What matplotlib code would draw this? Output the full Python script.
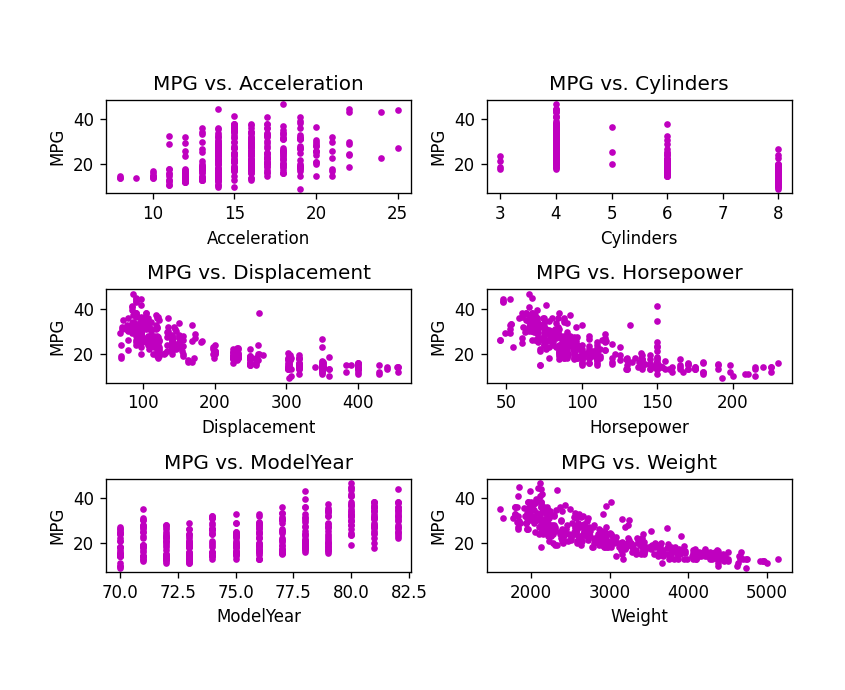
import numpy as np
import matplotlib
matplotlib.use('Agg')
import matplotlib.pyplot as plt

# auto mpg data, one line per model year (70 .. 82)
mpg = [18,15,18,16,17,15,14,14,14,15,15,14,15,14,24,22,18,21,27,26,25,24,25,26,21,10,10,11,9,
       27,28,25,25,19,16,17,19,18,14,14,14,14,12,13,13,18,22,19,18,23,28,30,30,31,35,27,26,
       24,25,23,20,21,13,14,15,14,17,11,13,12,13,19,15,13,13,14,18,22,21,26,22,28,23,28,27,
       13,14,13,14,15,12,13,13,14,13,12,13,18,16,18,18,23,26,11,12,13,12,18,20,21,22,18,19,21,26,15,16,29,24,20,19,15,24,20,11,
       20,21,19,15,31,26,32,25,16,16,18,16,13,14,14,14,29,26,26,31,32,28,24,26,24,26,31,
       19,18,15,15,16,15,16,14,17,16,15,18,21,20,13,29,23,20,23,24,25,24,18,29,19,23,23,22,25,33,
       28,25,25,26,27,17.5,16,15.5,14.5,22,22,24,22.5,29,24.5,29,33,20,18,18.5,17.5,29.5,32,28,26.5,20,13,19,19,16.5,16.5,13,13,13,
       31.5,30,36,25.5,33.5,17.5,17,15.5,15,17.5,20.5,19,18.5,16,15.5,15.5,16,29,24.5,26,25.5,30.5,33.5,30,30.5,22,21.5,21.5,
       43.1,36.1,32.8,39.4,36.1,19.9,19.4,20.2,19.2,20.5,20.2,25.1,20.5,19.4,20.6,20.8,18.6,18.1,19.2,17.7,18.1,17.5,30,27.5,27.2,30.9,21.1,23.2,23.8,23.9,20.3,17,21.6,16.2,31.5,29.5,
       21.5,19.8,22.3,20.2,20.6,17,17.6,16.5,18.2,16.9,15.5,19.2,18.5,31.9,34.1,35.7,27.4,25.4,23,27.2,23.9,34.2,34.5,31.8,37.3,28.4,28.8,26.8,33.5,
       41.5,38.1,32.1,37.2,28,26.4,24.3,19.1,34.3,29.8,31.3,37,32.2,46.6,27.9,40.8,44.3,43.4,36.4,30,44.6,40.9,33.8,29.8,32.7,23.7,35,23.6,32.4,
       32.9,31.6,28.1,30.7,25.4,24.2,22.4,26.6,20.2,17.6,28,27,34,31,29,27,24,36,37,31,38,36,36,36,34,38,32,38,34.4,
       25,38,26,22,32,36,27,27,44,32,28,31,37.7,34.7,29.9,33,34.5,33.7,23,24,36,38,30,25]

cylinders = [8,8,8,8,8,8,8,8,8,8,8,8,8,8,4,6,6,6,4,4,4,4,4,4,6,8,8,8,8,
             4,4,4,4,6,6,6,6,6,8,8,8,8,8,8,8,6,4,6,6,4,4,4,4,4,4,4,4,
             4,4,4,4,4,8,8,8,8,8,8,8,8,8,3,8,8,8,8,4,4,4,4,4,4,4,4,4,
             8,8,8,8,8,8,8,8,8,8,8,8,6,6,6,6,6,4,8,8,8,8,6,4,4,4,3,4,6,4,8,8,4,4,4,4,8,4,6,8,
             6,6,6,6,4,4,4,4,6,6,6,8,8,8,8,8,4,4,4,4,4,4,4,4,4,4,4,
             6,6,6,6,8,8,8,8,6,6,6,6,6,8,8,4,4,6,4,4,4,4,6,4,6,4,4,4,4,4,
             4,4,4,4,4,8,8,8,8,6,6,6,6,4,4,4,4,6,6,6,6,4,4,4,4,4,8,4,6,6,8,8,8,8,
             4,4,4,4,4,8,8,8,8,6,6,6,6,8,8,8,8,4,4,4,4,4,4,4,4,6,4,3,
             4,4,4,4,4,8,8,8,6,6,6,4,6,6,6,6,6,6,8,6,8,8,4,4,4,4,4,4,4,4,5,6,4,6,4,4,
             6,6,4,6,6,8,8,8,8,8,8,8,8,4,4,4,4,5,8,4,8,4,4,4,4,4,6,6,4,
             4,4,4,4,4,4,4,6,4,4,4,4,4,4,4,4,4,4,5,4,4,4,4,4,6,3,4,4,4,
             4,4,4,6,6,6,6,8,6,6,4,4,4,4,4,4,4,4,4,4,4,4,4,4,4,4,4,4,4,
             6,6,4,6,4,4,4,4,4,4,4,4,4,4,4,4,4,4,4,4,4,4,4,4]

displacement = [307,350,318,304,302,429,454,440,455,390,383,340,400,455,113,198,199,200,97,97,110,107,104,121,199,360,307,318,304,
                97,140,113,98,232,225,250,250,232,350,400,351,318,383,400,400,258,140,250,250,122,116,79,88,71,72,97,91,
                113,98,97,140,122,350,400,318,351,304,429,350,350,400,70,304,307,302,318,121,121,120,96,122,97,120,98,97,
                350,304,350,302,318,429,400,351,318,440,455,360,225,250,232,250,198,97,400,400,360,350,232,97,140,108,70,122,155,98,350,400,68,116,114,121,318,121,156,350,
                198,200,232,250,79,122,71,140,250,258,225,302,350,318,302,304,98,79,97,76,83,90,90,116,120,108,79,
                225,250,250,250,400,350,318,351,231,250,258,225,231,262,302,97,140,232,140,134,90,119,171,90,232,115,120,121,121,91,
                107,116,140,98,101,305,318,304,351,225,250,200,232,85,98,90,91,225,250,250,258,97,85,97,140,130,318,120,156,168,350,350,302,318,
                98,111,79,122,85,305,260,318,302,250,231,225,250,400,350,400,351,97,151,97,140,98,98,97,97,146,121,80,
                90,98,78,85,91,260,318,302,231,200,200,140,225,232,231,200,225,258,305,231,302,318,98,134,119,105,134,156,151,119,131,163,121,163,89,98,
                231,200,140,232,225,305,302,351,318,350,351,267,360,89,86,98,121,183,350,141,260,105,105,85,91,151,173,173,151,
                98,89,98,86,151,140,151,225,97,134,120,119,108,86,156,85,90,90,121,146,91,85,97,89,168,70,122,140,107,
                119,120,141,145,168,146,231,350,200,225,112,112,112,112,135,151,140,105,91,91,105,98,120,107,108,91,91,91,98,
                181,262,156,232,144,135,151,140,97,135,120,119,89,105,98,105,100,107,151,140,98,105,135,140]

horsepower = [130,165,150,150,140,198,220,215,225,190,170,160,150,225,95,95,97,85,88,46,87,90,95,113,90,215,200,210,193,
              88,90,95,150,100,105,100,88,100,165,175,153,150,180,170,175,110,72,100,88,86,90,70,76,65,69,60,70,
              95,80,54,90,86,165,175,150,153,150,208,155,160,190,97,150,130,140,150,112,76,87,69,86,92,97,80,88,
              175,150,145,137,150,198,150,158,150,215,225,175,105,100,100,88,95,46,150,167,170,180,100,88,72,94,90,85,107,90,145,230,49,75,91,112,150,110,122,180,
              95,150,100,100,67,80,65,75,100,110,105,140,150,150,140,150,83,67,78,52,61,75,75,75,97,93,67,
              95,105,72,72,170,145,150,148,110,105,110,95,110,110,129,75,83,100,78,96,71,97,97,70,90,95,88,98,115,53,
              86,81,92,79,83,140,150,120,152,100,105,81,90,52,60,70,53,100,78,110,95,71,70,75,72,102,150,88,108,120,180,145,130,150,
              68,80,58,96,70,145,110,145,130,110,105,100,98,180,170,190,149,78,88,75,89,63,83,67,78,97,110,110,
              48,66,52,70,60,110,140,139,105,95,85,88,100,90,105,85,110,120,145,165,139,140,68,95,97,75,95,105,85,97,103,125,115,133,71,68,
              115,85,88,90,110,130,129,138,135,155,142,125,150,71,65,80,80,77,125,71,90,70,70,65,69,90,115,115,90,
              76,60,70,65,90,88,90,90,78,90,75,92,75,65,105,65,48,48,67,67,67,150,67,62,132,100,88,150,72,
              100,74,80,76,116,120,110,105,88,85,88,88,88,85,84,90,92,74,68,68,63,70,88,75,70,67,67,67,65,
              110,85,92,112,96,84,90,86,52,84,79,82,62,63,65,74,150,75,150,92,70,63,84,92]

weight = [3504,3693,3436,3433,3449,4341,4354,4312,4425,3850,3563,3609,3761,3086,2372,2833,2774,2587,2130,1835,2672,2430,2375,2234,2648,4615,4376,4382,4732,
          2130,2264,2228,2046,2634,3439,3329,3302,3288,4209,4464,4154,4096,4955,4746,5140,2962,2408,3282,3139,2220,2123,2074,2065,1773,1613,1834,1955,
          2278,2126,2254,2408,2226,4274,4385,4135,4129,3672,4633,4502,4456,4422,2330,3892,4098,4294,4077,2933,2511,2979,2189,2395,2288,2506,2164,2100,
          4100,3672,3988,4042,3777,4952,4464,4363,4237,4735,4951,3821,3121,3278,2945,3021,2904,1950,4997,4906,4654,4499,2789,2279,2401,2379,2124,2310,2472,2265,4082,4278,1867,2158,2582,2868,3399,2660,2807,3664,
          3102,2875,2901,3336,1950,2451,1836,2542,3781,3632,3613,4141,4699,4457,4638,4257,2219,1963,2300,1649,2003,2125,2108,2246,2489,2391,2000,
          3264,3459,3432,3158,4668,4440,4498,4657,3907,3897,3730,3785,3039,3221,3169,2171,2639,2914,2592,2702,2223,2545,2984,1937,3211,2694,2957,2945,2671,1795,
          2464,2220,2572,2255,2202,4215,4190,3962,4215,3233,3353,3012,3085,2035,2164,1937,1795,3651,3574,3645,3193,1825,1990,2155,2565,3150,3940,3270,2930,3820,4380,4055,3870,3755,
          2045,2155,1825,2300,1945,3880,4060,4140,4295,3520,3425,3630,3525,4220,4165,4325,4335,1940,2740,2265,2755,2051,2075,1985,2190,2815,2600,2720,
          1985,1800,1985,2070,1800,3365,3735,3570,3535,3155,2965,2720,3430,3210,3380,3070,3620,3410,3425,3445,3205,4080,2155,2560,2300,2230,2515,2745,2855,2405,2830,3140,2795,3410,1990,2135,
          3245,2990,2890,3265,3360,3840,3725,3955,3830,4360,4054,3605,3940,1925,1975,1915,2670,3530,3900,3190,3420,2200,2150,2020,2130,2670,2595,2700,2556,
          2144,1968,2120,2019,2678,2870,3003,3381,2188,2711,2542,2434,2265,2110,2800,2110,2085,2335,2950,3250,1850,1835,2145,1845,2910,2420,2500,2905,2290,
          2615,2635,3230,3160,2900,2930,3415,3725,3060,3465,2605,2640,2395,2575,2525,2735,2865,1980,2025,1970,2125,2125,2160,2205,2245,1965,1965,1995,2045,
          2945,3015,2585,2835,2665,2370,2950,2790,2130,2295,2625,2720,2050,2215,2380,2190,2320,2210,3035,2865,2125,2125,2385,2572]

# acceleration is stored rounded to whole seconds, like in the chart
acceleration = [12,12,11,12,10,10,9,8,10,8,10,8,10,10,15,16,16,16,14,20,18,14,18,12,15,14,15,14,19,
                14,16,14,19,13,16,16,16,16,12,12,14,13,12,12,12,14,19,15,14,14,14,20,14,19,18,19,20,
                16,17,24,20,16,12,12,14,13,12,11,14,14,12,14,12,14,16,14,14,18,20,18,16,17,14,15,16,
                13,12,13,14,12,12,12,13,14,11,11,11,16,18,16,16,16,21,14,12,13,12,15,19,20,16,14,18,14,16,13,10,20,16,14,16,11,14,14,11,
                16,17,16,17,19,16,21,17,17,18,16,14,14,14,16,16,16,16,14,16,19,14,16,14,15,16,16,
                16,16,21,20,12,14,14,14,21,18,19,19,15,14,12,16,17,16,18,14,16,17,14,14,17,15,17,14,14,18,
                16,17,15,18,15,13,13,14,13,15,14,18,18,22,22,14,17,18,21,16,18,12,17,16,14,16,13,22,16,17,12,12,15,14,
                18,15,19,16,17,12,19,14,15,16,17,18,19,11,11,12,14,14,16,18,16,17,16,16,14,14,13,14,
                22,14,19,19,16,16,13,13,19,18,16,15,17,17,16,17,19,15,13,13,11,14,16,14,15,14,15,17,18,15,16,14,16,16,15,17,
                15,18,17,18,17,15,13,13,15,15,14,15,13,14,15,14,15,20,17,25,22,13,15,19,15,16,11,13,13,
                15,19,16,16,16,18,20,19,16,16,18,15,15,18,14,19,22,24,20,22,14,17,18,15,11,12,15,14,17,
                15,18,20,20,13,14,16,19,17,17,20,19,18,16,16,18,16,15,18,18,15,17,15,15,17,15,16,16,16,
                16,17,14,15,14,13,17,16,25,12,19,19,17,15,21,14,16,14,21,16,17,15,13,15]

model_year = ([70]*29 + [71]*28 + [72]*28 + [73]*40 + [74]*27 + [75]*30 + [76]*34 +
              [77]*28 + [78]*36 + [79]*29 + [80]*29 + [81]*29 + [82]*24)

panels = [('Acceleration', acceleration), ('Cylinders', cylinders),
          ('Displacement', displacement), ('Horsepower', horsepower),
          ('ModelYear', model_year), ('Weight', weight)]

fig, axes = plt.subplots(3, 2, figsize=(845/120, 690/120), dpi=120)
fig.subplots_adjust(left=0.1254, right=0.9373, top=0.855, bottom=0.171,
                    wspace=0.246, hspace=1.03)

for ax, (name, x) in zip(axes.flat, panels):
    ax.scatter(x, mpg, c='m', marker='.')
    ax.set_title('MPG vs. ' + name)
    ax.set_xlabel(name)
    ax.set_ylabel('MPG')

fig.savefig('out.png', dpi=120)
